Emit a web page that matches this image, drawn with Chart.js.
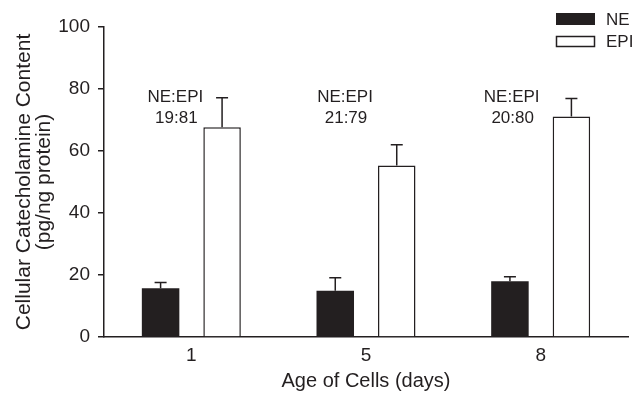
<!DOCTYPE html>
<html lang="en">
  <head>
    <meta charset="UTF-8" />
    <title>Cellular Catecholamine Content</title>
    <script src="https://cdn.jsdelivr.net/npm/chart.js"></script>
    <style>
      html, body { margin: 0; padding: 0; background: #fff; }
      .container { width: 637px; height: 393px; }
    </style>
  </head>
  <body>
    <div class="container">
      <canvas id="cate-chart" width="637" height="393"></canvas>
    </div>
    <script>
      // data
      const days = ["1", "5", "8"];
      const neValues = [15.7, 14.9, 18.0];
      const neErrTop = [17.6, 19.1, 19.4];
      const epiValues = [67.7, 55.3, 71.1];
      const epiErrTop = [77.2, 62.0, 76.9];
      const ratioText = ["19:81", "21:79", "20:80"];
      const yTicks = [0, 20, 40, 60, 80, 100];

      const ink = "#231f20";
      const fontFam = "'Liberation Sans', Arial, sans-serif";

      // small nudges for the ratio notes (px from group centre)
      const noteDx = [-16, -21, -29];

      const extras = {
        id: "extras",
        afterDatasetsDraw(chart) {
          const ctx = chart.ctx;
          const y = chart.scales.y;
          const x = chart.scales.x;
          const errs = [neErrTop, epiErrTop];

          ctx.save();
          ctx.strokeStyle = ink;
          ctx.lineWidth = 1.5;
          errs.forEach((arr, i) => {
            chart.getDatasetMeta(i).data.forEach((bar, j) => {
              const top = y.getPixelForValue(arr[j]);
              ctx.beginPath();
              ctx.moveTo(bar.x, bar.y);
              ctx.lineTo(bar.x, top);
              ctx.moveTo(bar.x - 6, top);
              ctx.lineTo(bar.x + 6, top);
              ctx.stroke();
            });
          });

          // NE:EPI notes
          ctx.fillStyle = ink;
          ctx.font = "17px " + fontFam;
          ctx.textAlign = "center";
          ctx.textBaseline = "middle";
          days.forEach((d, j) => {
            const cx = x.getPixelForValue(j) + noteDx[j];
            ctx.fillText("NE:EPI", cx, y.getPixelForValue(77.4));
            ctx.fillText(ratioText[j], cx + 1, y.getPixelForValue(70.4));
          });

          // legend
          const lx = chart.chartArea.right - 72;
          ctx.textAlign = "left";
          ctx.font = "17px " + fontFam;
          ctx.fillRect(lx, 13, 39, 12);
          ctx.fillText("NE", lx + 50, 20);
          ctx.fillStyle = "#fff";
          ctx.fillRect(lx, 36, 39, 11);
          ctx.strokeRect(lx + 0.5, 36.5, 38, 10);
          ctx.fillStyle = ink;
          ctx.fillText("EPI", lx + 50, 42);
          ctx.restore();
        },
      };

      new Chart(document.getElementById("cate-chart"), {
        type: "bar",
        data: {
          labels: days,
          datasets: [
            {
              label: "NE",
              data: neValues,
              backgroundColor: ink,
              borderColor: ink,
              borderWidth: 0,
            },
            {
              label: "EPI",
              data: epiValues,
              backgroundColor: "#ffffff",
              borderColor: ink,
              borderWidth: 1.5,
              borderSkipped: "bottom",
            },
          ],
        },
        options: {
          responsive: false,
          animation: false,
          categoryPercentage: 0.704,
          barPercentage: 0.61,
          layout: { padding: { top: 27, right: 9, left: 0, bottom: 0 } },
          plugins: { legend: { display: false }, tooltip: { enabled: false } },
          scales: {
            x: {
              grid: { display: false, drawTicks: false },
              border: { display: true, color: ink, width: 1.5 },
              ticks: {
                color: ink,
                padding: 7,
                font: { family: fontFam, size: 19 },
              },
              title: {
                display: true,
                text: "Age of Cells (days)",
                color: ink,
                font: { family: fontFam, size: 20 },
                padding: { top: 0, bottom: 0 },
              },
              afterFit(scale) {
                scale.height = 56;
              },
            },
            y: {
              min: 0,
              max: 100,
              afterBuildTicks(scale) {
                scale.ticks = yTicks.map((v) => ({ value: v }));
              },
              grid: {
                drawOnChartArea: false,
                drawTicks: true,
                tickLength: 6,
                color: ink,
                lineWidth: 1.5,
              },
              border: { display: true, color: ink, width: 1.5 },
              ticks: {
                color: ink,
                padding: 8,
                font: { family: fontFam, size: 19 },
              },
              title: {
                display: true,
                text: ["Cellular Catecholamine Content", "(pg/ng protein)"],
                color: ink,
                font: { family: fontFam, size: 21, lineHeight: 0.95 },
                padding: { top: 14, bottom: 0 },
              },
              afterFit(scale) {
                scale.width = 104;
              },
            },
          },
        },
        plugins: [extras],
      });
    </script>
  </body>
</html>
